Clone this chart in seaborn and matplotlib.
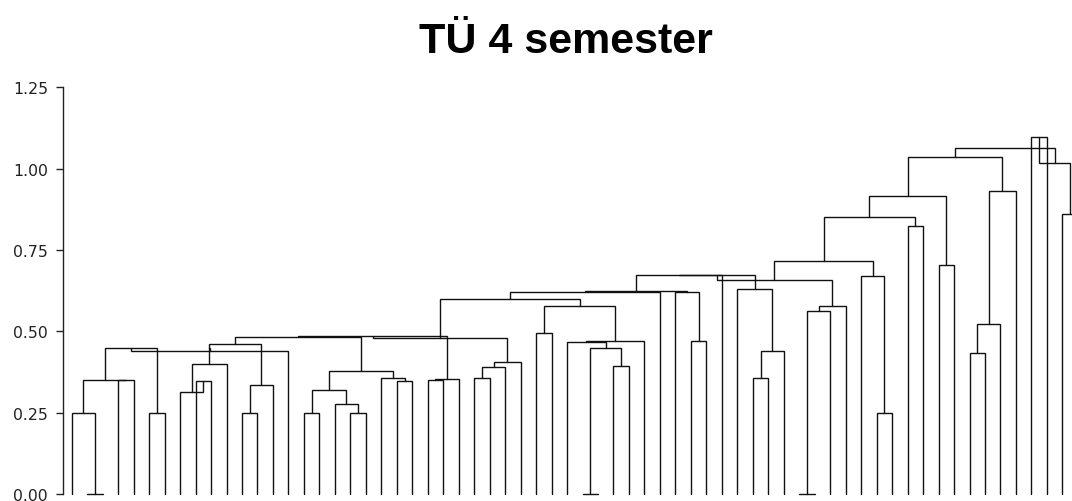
import numpy as np
import pandas as pd
import matplotlib
matplotlib.use("Agg")
import matplotlib.pyplot as plt
import seaborn as sns

# Dendrogram "TÜ 4 semester": 66 objects (the last one lies past the right edge)
n_leaves = 66

# merges in order: (child a, child b, joining distance)
# children 0..65 are objects, 66+k is the node made by merge k
merge_a = [1, 0, 3, 67, 5, 69, 71, 8, 7, 74, 75, 11, 77, 76,
           15, 18, 17, 80, 21, 20, 83, 23, 87, 26, 89, 90,
           79, 92, 93, 30, 33, 35, 96, 32, 99, 95, 94,
           102, 40, 39, 103, 106, 44, 108, 43, 107, 47, 112, 113, 111,
           52, 51, 115, 54, 118, 56, 120, 58, 123, 124, 122, 62, 64, 127, 126]
merge_b = [2, 66, 4, 68, 6, 70, 14, 9, 73, 10, 72, 12, 13, 78,
           16, 19, 81, 82, 22, 84, 85, 24, 25, 27, 28, 29,
           86, 88, 91, 31, 34, 36, 97, 98, 37, 100, 101,
           38, 41, 104, 105, 42, 45, 46, 109, 110, 48, 49, 50, 114,
           53, 116, 117, 55, 119, 57, 121, 59, 60, 61, 125, 63, 65, 128, 129]
merge_h = [0.0, 0.25, 0.35, 0.35, 0.25, 0.448, 0.44, 0.348, 0.313, 0.40, 0.45, 0.25, 0.335, 0.461,
           0.249, 0.249, 0.278, 0.32, 0.348, 0.358, 0.377, 0.350, 0.354, 0.357, 0.391, 0.405,
           0.484, 0.486, 0.480, 0.495, 0.0, 0.394, 0.448, 0.466, 0.471, 0.579, 0.599,
           0.622, 0.471, 0.622, 0.625, 0.674, 0.358, 0.438, 0.630, 0.674, 0.0, 0.563, 0.579, 0.658,
           0.249, 0.669, 0.715, 0.823, 0.850, 0.705, 0.917, 0.432, 0.522, 0.932, 1.035,
           1.096, 0.860, 1.016, 1.063]

y_ticks = [0.0, 0.25, 0.5, 0.75, 1.0, 1.25]
title = "TÜ 4 semester"

# node positions: leaves by order, nodes at the middle of their two children
pos = list(range(n_leaves))
hgt = [0.0] * n_leaves
rows = []
for k, (a, b, h) in enumerate(zip(merge_a, merge_b, merge_h)):
    xs = [pos[a], pos[a], pos[b], pos[b]]
    ys = [hgt[a], h, h, hgt[b]]
    for x, y in zip(xs, ys):
        rows.append({"link": k, "x": x, "y": y})
    pos.append((pos[a] + pos[b]) / 2)
    hgt.append(h)
df = pd.DataFrame(rows)

sns.set_style("white")
plt.rcParams["font.family"] = ["DejaVu Sans"]

fig = plt.figure(figsize=(10.72, 5.02), dpi=100)
ax = fig.add_axes([63.3 / 1072, 7 / 502, (1072 - 63.3) / 1072, 406.7 / 502])

sns.lineplot(data=df, x="x", y="y", units="link", estimator=None, sort=False,
             color="#111111", linewidth=1.0, ax=ax, legend=False)
for ln in ax.lines:
    ln.set_clip_on(False)
    ln.set_solid_joinstyle("miter")

ax.set_xlim(-0.543, 64.62)
ax.set_ylim(0, 1.25)
ax.set_xticks([])
ax.set_yticks(y_ticks)
ax.set_yticklabels([f"{t:.2f}" for t in y_ticks], fontsize=11.3, color="#222222")
ax.tick_params(axis="y", length=5, width=1, color="#222222", pad=6, left=True)
ax.set_xlabel("")
ax.set_ylabel("")
for side in ["top", "right", "bottom"]:
    ax.spines[side].set_visible(False)
ax.spines["left"].set_color("#222222")
ax.spines["left"].set_linewidth(1.0)

fig.text(565.5 / 1072, (502 - 53.3) / 502, title, ha="center", va="baseline",
         fontsize=31, fontweight="bold", color="black",
         family=["Liberation Sans", "DejaVu Sans"])

fig.savefig("out.png", dpi=100)
